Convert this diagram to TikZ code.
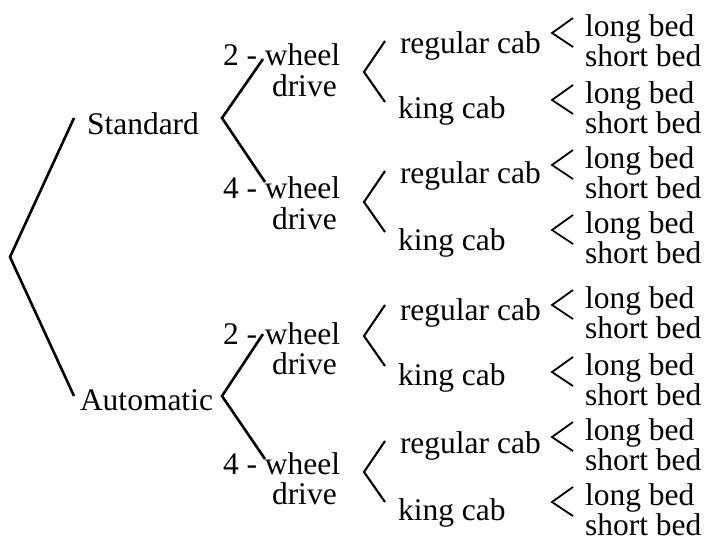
\documentclass[tikz,border=0pt]{standalone}
\usepackage{fontspec}
\setmainfont{Liberation Serif}
\begin{document}
\begin{tikzpicture}[x=1pt,y=-1pt,
  lbl/.style={anchor=base west,inner sep=0pt,outer sep=0pt,font=\fontsize{31.5}{36}\selectfont},
  lone/.style={line width=2.6pt,line join=miter},
  ltwo/.style={line width=2.6pt,line join=miter},
  lthree/.style={line width=2.1pt,line join=miter},
  lfour/.style={line width=1.8pt,line join=miter}]
\path[use as bounding box] (0,0) rectangle (706,544);
% level 1
\coordinate (root) at (10,257);
\coordinate (rS) at (74,118);
\coordinate (rA) at (74,396);
\node[lbl] (std) at (87,134) {Standard};
\node[lbl] (aut) at (80,410) {Automatic};
\draw[lone] (rS) -- (root) -- (rA);
% level 2
\coordinate (vS) at (222,118);
\coordinate (s2) at (263,59);
\coordinate (s4) at (265,182);
\draw[ltwo] (s2) -- (vS) -- (s4);
\node[lbl] (s2t) at (223,65) {2 - wheel};
\node[lbl] (s2d) at (272,96) {drive};
\node[lbl] (s4t) at (223,198) {4 - wheel};
\node[lbl] (s4d) at (272,229) {drive};
\coordinate (vA) at (222,396);
\coordinate (a2) at (263,334);
\coordinate (a4) at (265,459);
\draw[ltwo] (a2) -- (vA) -- (a4);
\node[lbl] (a2t) at (223,344) {2 - wheel};
\node[lbl] (a2d) at (272,374) {drive};
\node[lbl] (a4t) at (223,474) {4 - wheel};
\node[lbl] (a4d) at (272,504) {drive};
% level 3
\foreach \i/\vy/\ry/\ky in {1/72/53/118,2/202/183/250,3/336/320/385,4/472/453/520}{
  \coordinate (c\i) at (364,\vy);
  \coordinate (c\i u) at (385,{\vy-31});
  \coordinate (c\i d) at (385,{\vy+30});
  \draw[lthree] (c\i u) -- (c\i) -- (c\i d);
  \node[lbl] (reg\i) at (400,\ry) {regular cab};
  \node[lbl] (king\i) at (398,\ky) {king cab};
}
% level 4
\foreach \j/\L in {1/36,2/103,3/168,4/233,5/308,6/375,7/440,8/505}{
  \coordinate (b\j) at (552,{\L-3});
  \coordinate (b\j u) at (573,{\L-18});
  \coordinate (b\j d) at (573,{\L+11});
  \draw[lfour] (b\j u) -- (b\j) -- (b\j d);
  \node[lbl] (long\j) at (585,\L) {long bed};
  \node[lbl] (short\j) at (585,{\L+30}) {short bed};
}
\end{tikzpicture}
\end{document}
